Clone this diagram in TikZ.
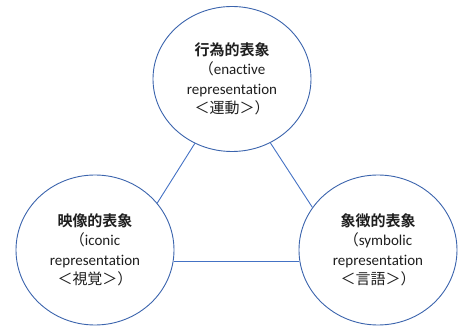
\documentclass[tikz,border=0pt]{standalone}
\usepackage{fontspec}
\setmainfont{Carlito}[Ligatures=NoCommon]
\newfontfamily\jp{Noto Sans CJK JP}[BoldFont=Noto Sans CJK JP Bold]
\usetikzlibrary{shapes.geometric}
\definecolor{edge}{HTML}{4472C4}
\definecolor{ring}{HTML}{3B64AD}
\definecolor{ink}{HTML}{1E1E1E}
\begin{document}
\begin{tikzpicture}[x=1pt,y=1pt,
  rep/.style={ellipse, draw=ring, line width=0.9pt, fill=white,
    minimum width=158pt, minimum height=150pt, inner sep=0pt,
    align=center, font=\fontsize{15}{19.5}\selectfont, text=ink},
  link/.style={draw=edge, line width=0.9pt}]
\useasboundingbox (0,0) rectangle (459,327);
\node[rep, minimum height=145pt] (T) at (232,248) {{\jp\bfseries 行為的表象}\\{\jp （}enactive\\representation\\{\jp ＜運動＞）}};
\node[rep] (L) at (95,77) {{\jp\bfseries 映像的表象}\\{\jp （}iconic\\representation\\{\jp ＜視覚＞）}};
\node[rep] (R) at (378,77) {{\jp\bfseries 象徴的表象}\\{\jp （}symbolic\\representation\\{\jp ＜言語＞）}};
\draw[link] (T.-120) -- (L.37);
\draw[link] (T.-59) -- (R.147);
\draw[link] (L.-8) -- (R.188);
\end{tikzpicture}
\end{document}
